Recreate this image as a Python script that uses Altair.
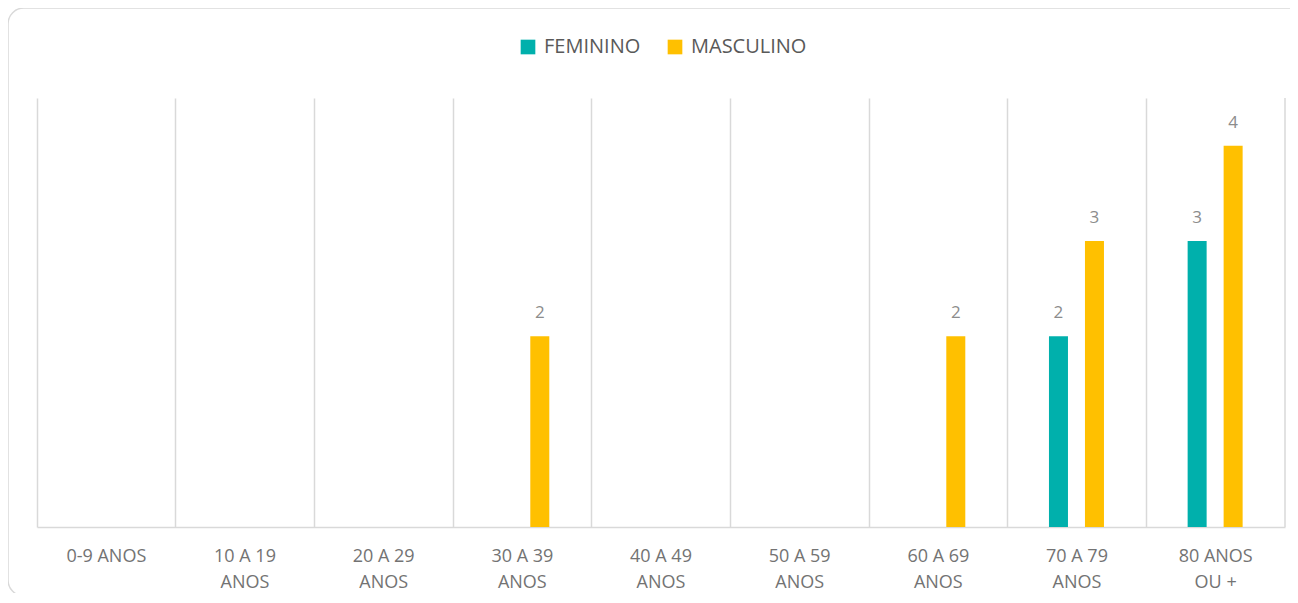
import altair as alt
import pandas as pd

categories = ["0-9 ANOS", "10 A 19\nANOS", "20 A 29\nANOS", "30 A 39\nANOS",
              "40 A 49\nANOS", "50 A 59\nANOS", "60 A 69\nANOS", "70 A 79\nANOS",
              "80 ANOS\nOU +"]
series = ["FEMININO", "MASCULINO"]
feminino = [0, 0, 0, 0, 0, 0, 0, 2, 3]
masculino = [0, 0, 0, 2, 0, 0, 2, 3, 4]
colors = ["#00B0AC", "#FFC000"]

rows = []
for c, f, m in zip(categories, feminino, masculino):
    rows.append({"cat": c, "sexo": series[0], "v": f})
    rows.append({"cat": c, "sexo": series[1], "v": m})
df = pd.DataFrame(rows)

W, H = 1248, 429

x = alt.X("cat:N", sort=categories, title=None,
          scale=alt.Scale(paddingInner=0, paddingOuter=0),
          axis=alt.Axis(labelAngle=0, labelExpr="split(datum.value, '\\n')",
                        labelFont="Open Sans", labelFontSize=18, labelColor="#737373",
                        labelLineHeight=26, labelPadding=20, ticks=False,
                        domainColor="#d9d9d9", domainWidth=1.5,
                        grid=True, gridColor="#d9d9d9", gridWidth=1.5,
                        bandPosition=0))
xo = alt.XOffset("sexo:N", sort=series,
                 scale=alt.Scale(range=[41.3, 96.3], paddingInner=0.472, paddingOuter=0))
y = alt.Y("v:Q", scale=alt.Scale(domain=[0, 4.5], nice=False), axis=None, title=None)

bars = alt.Chart(df).mark_bar().encode(
    x=x, xOffset=xo, y=y,
    color=alt.Color("sexo:N", sort=series, title=None,
                    scale=alt.Scale(domain=series, range=colors),
                    legend=alt.Legend(orient="none", legendX=481, legendY=-61,
                                      direction="horizontal", symbolType="square",
                                      symbolSize=215, symbolStrokeWidth=0,
                                      labelFont="Open Sans", labelFontSize=20,
                                      labelColor="#595959", labelOffset=6,
                                      columnPadding=24)),
)

labels = alt.Chart(df).transform_filter("datum.v > 0").mark_text(
    font="Open Sans", fontSize=17, color="#8c8c8c", baseline="alphabetic", dy=-18
).encode(x=x, xOffset=xo, y=y, text=alt.Text("v:Q"))

right_line = alt.Chart(pd.DataFrame({"a": [0]})).mark_rule(
    color="#d9d9d9", strokeWidth=1.5
).encode(x=alt.value(W), y=alt.value(0), y2=alt.value(H))

frame = alt.Chart(pd.DataFrame({"a": [0]})).mark_rect(
    fill="transparent", stroke="#d9d9d9", strokeWidth=1.5, cornerRadius=16
).encode(x=alt.value(-29), x2=alt.value(1290), y=alt.value(-90), y2=alt.value(498))

chart = alt.layer(frame, bars, labels, right_line).properties(
    width=W, height=H,
    background="white",
    autosize=alt.AutoSizeParams(type="none"),
    padding={"left": 29, "top": 90, "right": 5, "bottom": 66},
).configure_view(strokeWidth=0, stroke="transparent")

chart.save("out.html", embed_options={"renderer": "svg", "actions": False})
